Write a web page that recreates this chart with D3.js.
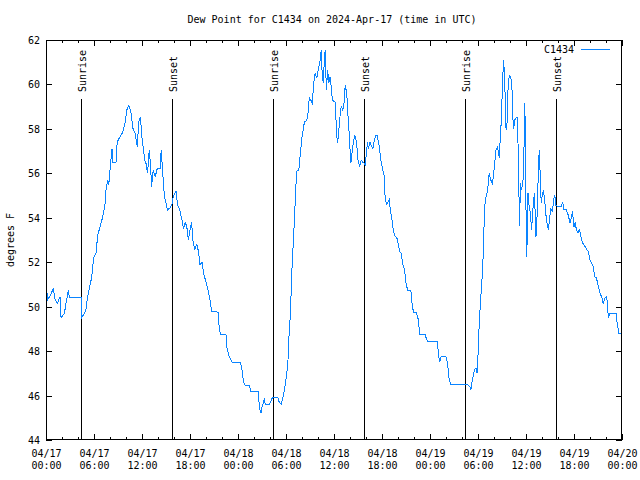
<!DOCTYPE html>
<html>
<head>
<meta charset="utf-8">
<script src="https://cdn.jsdelivr.net/npm/d3@7"></script>
<style>
  html, body { margin: 0; padding: 0; background: #fff; }
  svg { display: block; }
  text { font-family: "DejaVu Sans Mono", "Liberation Mono", monospace; font-size: 10px; fill: #000; }
</style>
</head>
<body>
<svg id="chart" width="640" height="480"></svg>
<script>
// ---- data (hours since 2024-04-17 00:00 UTC, dew point in °F) ----
const hoursFromStart = [
  0.0,0.2,0.45,0.9,1.15,1.45,1.75,1.88,2.3,2.5,2.8,2.92,4.4,4.46,4.8,5.0,5.2,5.4,5.7,5.96,
  6.25,6.46,6.75,7.1,7.4,7.5,7.7,7.85,8.0,8.25,8.35,8.75,8.9,9.25,9.6,9.9,10.1,10.33,10.6,10.9,
  11.15,11.4,11.6,11.8,12.0,12.2,12.4,12.5,12.7,12.9,13.05,13.2,13.4,13.65,13.9,14.25,14.4,14.6,14.75,14.9,
  15.2,15.5,15.75,15.9,16.25,16.45,16.75,17.0,17.2,17.4,17.6,17.8,18.0,18.2,18.4,18.6,18.85,19.05,19.25,19.5,
  19.7,20.0,20.25,20.5,20.7,21.5,21.6,21.8,22.5,22.6,22.85,23.1,23.3,24.3,24.5,24.7,24.9,
  25.4,25.6,26.5,26.6,26.75,26.9,27.0,27.15,27.3,27.4,27.9,28.1,28.3,29.0,29.15,29.4,29.6,29.8,30.0,30.2,
  30.33,30.4,30.55,30.7,30.9,31.05,31.2,31.33,31.6,31.8,32.0,32.3,32.6,32.8,32.9,33.1,33.3,33.45,33.65,33.85,
  34.0,34.25,34.4,34.5,34.65,34.8,34.9,35.05,35.2,35.35,35.5,35.65,35.8,36.15,36.25,36.35,36.45,36.6,36.75,36.9,
  37.1,37.25,37.4,37.6,37.7,37.9,38.1,38.25,38.4,38.6,38.75,38.9,39.0,39.2,39.4,39.6,39.8,39.9,40.1,40.2,
  40.3,40.5,40.65,40.85,41.0,41.2,41.4,41.6,41.75,41.9,42.1,42.3,42.4,42.6,42.75,42.9,43.05,43.25,43.4,43.6,
  43.9,44.05,44.2,44.4,44.6,44.8,45.0,45.2,45.6,45.8,45.95,46.3,46.55,46.7,47.4,47.55,47.7,48.9,49.05,49.2,
  49.4,50.0,50.2,50.4,50.6,52.7,53.0,53.1,53.3,53.55,53.75,53.9,54.05,54.15,54.35,54.6,54.7,54.9,55.0,55.2,
  55.4,55.6,55.8,56.05,56.25,56.45,56.65,56.9,57.1,57.2,57.35,57.45,57.6,57.75,57.9,58.1,58.25,58.35,58.45,58.6,
  58.75,58.9,59.0,59.1,59.2,59.3,59.4,59.6,59.7,59.85,59.9,60.0,60.1,60.25,60.4,60.55,60.7,60.85,61.05,61.15,
  61.25,61.4,61.5,61.65,61.8,61.9,62.05,62.2,62.3,62.4,62.55,62.8,62.95,63.1,63.3,63.5,63.6,63.75,64.05,64.4,
  64.6,64.75,65.0,65.2,65.3,65.5,65.7,65.8,66.0,66.15,66.3,66.5,66.7,66.85,67.1,67.4,67.6,67.8,68.0,68.2,
  68.4,68.6,68.8,69.05,69.25,69.45,69.65,69.9,70.1,70.3,70.5,71.25,71.4,71.6,72.0
];
const dewPointF = [
  51.2,50.3,50.45,50.8,50.3,50.15,50.45,49.5,49.7,50.15,50.75,50.4,50.4,49.5,49.7,49.9,50.45,50.8,51.3,52.2,
  52.4,53.2,53.6,54.05,54.65,55.25,55.7,55.5,56.15,57.1,56.5,56.5,57.4,57.65,57.85,58.3,58.85,59.05,58.8,57.95,
  57.8,57.2,58.3,58.55,57.6,57.0,56.5,56.45,56.0,57.05,56.45,55.4,56.15,55.85,56.2,56.2,57.05,56.0,55.2,54.8,
  54.35,54.45,54.6,54.95,55.2,54.6,54.3,53.9,53.5,53.8,53.6,53.0,53.45,53.8,52.85,52.6,52.8,52.5,51.9,52.0,
  51.5,51.1,50.75,50.3,49.8,49.75,49.25,48.75,48.75,48.2,47.8,47.6,47.5,47.5,47.15,46.6,46.45,
  46.45,46.2,46.2,45.8,45.35,45.2,45.5,45.65,45.9,45.6,45.6,45.75,45.9,45.9,45.7,45.6,45.9,46.25,46.75,47.3,
  48.1,48.95,49.6,51.35,52.8,53.9,55.1,56.1,56.15,56.9,57.65,58.3,58.4,58.8,59.4,59.3,59.15,60.05,60.5,60.3,
  60.6,61.05,61.55,60.65,60.05,61.1,61.55,59.75,60.65,60.05,60.35,59.9,59.3,59.2,58.4,57.65,57.35,57.95,58.55,59.0,
  58.85,59.15,59.95,59.6,58.85,57.8,56.45,56.9,57.35,57.7,57.5,57.05,56.6,56.3,56.6,56.5,56.45,56.35,57.1,57.4,
  57.1,57.4,57.25,57.1,57.4,57.7,57.7,57.35,56.9,56.5,56.15,55.85,54.8,54.6,54.7,54.8,54.35,53.9,53.45,53.2,
  53.05,52.75,52.5,52.4,51.9,51.7,51.05,50.75,50.75,50.0,49.75,49.75,49.4,48.75,48.75,48.55,48.45,48.45,47.9,47.5,
  47.75,47.75,47.45,46.7,46.5,46.5,46.4,46.25,46.7,47.15,47.25,47.0,48.2,49.25,50.45,51.8,53.15,54.8,54.95,55.2,
  56.0,55.7,55.5,56.3,57.05,57.2,56.7,58.3,60.35,61.1,60.2,58.1,57.95,59.75,60.4,60.35,59.75,58.55,58.0,58.4,
  58.5,58.5,57.35,55.4,53.65,55.55,55.25,55.55,56.15,59.15,58.1,54.35,52.25,55.1,54.5,54.2,53.45,54.35,55.1,54.2,
  53.15,54.2,55.55,57.05,55.7,54.65,55.1,55.25,54.8,54.55,53.9,53.45,54.0,54.4,54.3,54.9,55.0,54.55,54.5,54.5,
  54.7,54.35,54.4,54.2,54.1,53.75,54.05,54.3,53.6,53.8,53.45,53.3,53.5,53.15,52.85,52.7,52.55,52.5,52.1,51.95,
  51.8,51.35,51.3,50.9,50.6,50.45,50.15,50.4,50.45,49.5,49.7,49.7,49.25,48.8,48.8
];
const sunriseTimes = ["2024-04-17T04:26:00Z","2024-04-18T04:25:00Z","2024-04-19T04:25:00Z"];
const sunsetTimes  = ["2024-04-17T15:44:00Z","2024-04-18T15:45:00Z","2024-04-19T15:46:00Z"];
const yTicks = [44,46,48,50,52,54,56,58,60,62];
const seriesName = "C1434";
const titleText = "Dew Point for C1434 on 2024-Apr-17 (time in UTC)";
const yLabel = "degrees F";

// ---- layout ----
const L = 46, R = 622, T = 40, B = 440;
const start = Date.UTC(2024,3,17,0,0);
const end = Date.UTC(2024,3,20,0,0);
const HOUR = 3600000;
const x = d3.scaleUtc().domain([new Date(start), new Date(end)]).range([L, R]);
const y = d3.scaleLinear().domain([44, 62]).range([B, T]);
const lineColor = "#0a84ff";

const svg = d3.select("#chart");

// title
svg.append("text").attr("x", 332).attr("y", 23).attr("text-anchor", "middle").text(titleText);

// y label
svg.append("text").attr("transform", "translate(14," + ((T + B) / 2) + ") rotate(-90)")
  .attr("text-anchor", "middle").text(yLabel);

const majorX = d3.utcHour.every(6).range(new Date(start), new Date(end + 1));
const minorX = d3.utcHour.every(2).range(new Date(start), new Date(end + 1)).filter(d => d.getUTCHours() % 6 !== 0);
const fmtDate = d3.utcFormat("%m/%d"), fmtTime = d3.utcFormat("%H:%M");

// bottom axis (major with labels)
const gx = svg.append("g").attr("transform", "translate(0," + B + ")")
  .call(d3.axisBottom(x).tickValues(majorX).tickSizeInner(-6).tickSizeOuter(0).tickFormat(""));
gx.select(".domain").remove();
gx.selectAll(".tick text").remove();
gx.selectAll(".tick").append("text").attr("y", 17).attr("text-anchor", "middle")
  .each(function(d) {
    const t = d3.select(this);
    t.append("tspan").attr("x", 0).attr("dy", 0).text(fmtDate(d));
    t.append("tspan").attr("x", 0).attr("dy", 12).text(fmtTime(d));
  });
svg.append("g").attr("transform", "translate(0," + B + ")")
  .call(d3.axisBottom(x).tickValues(minorX).tickSizeInner(-3).tickSizeOuter(0).tickFormat(""))
  .call(g => g.select(".domain").remove());
// top mirrored ticks
svg.append("g").attr("transform", "translate(0," + T + ")")
  .call(d3.axisTop(x).tickValues(majorX).tickSizeInner(-6).tickSizeOuter(0).tickFormat(""))
  .call(g => g.select(".domain").remove());
svg.append("g").attr("transform", "translate(0," + T + ")")
  .call(d3.axisTop(x).tickValues(minorX).tickSizeInner(-3).tickSizeOuter(0).tickFormat(""))
  .call(g => g.select(".domain").remove());

// y axes
const gy = svg.append("g").attr("transform", "translate(" + L + ",0)")
  .call(d3.axisLeft(y).tickValues(yTicks).tickSizeInner(-6).tickSizeOuter(0).tickPadding(12).tickFormat(d3.format("d")));
gy.select(".domain").remove();
gy.selectAll(".tick text").attr("dy", "0.35em").attr("x", -6);
svg.append("g").attr("transform", "translate(" + R + ",0)")
  .call(d3.axisRight(y).tickValues(yTicks).tickSizeInner(-6).tickSizeOuter(0).tickFormat(""))
  .call(g => g.select(".domain").remove());

svg.selectAll(".tick line").attr("stroke", "#000").attr("shape-rendering", "crispEdges");
svg.selectAll(".tick text").style("fill", "#000");
svg.selectAll("g").attr("font-family", null).attr("font-size", null);

// sunrise / sunset lines
const events = sunriseTimes.map(t => ({t: new Date(t), label: "Sunrise"}))
  .concat(sunsetTimes.map(t => ({t: new Date(t), label: "Sunset"})));
events.forEach(e => {
  const xp = Math.round(x(e.t)) + 0.5;
  svg.append("line").attr("x1", xp).attr("x2", xp).attr("y1", 99).attr("y2", B)
    .attr("stroke", "#000").attr("stroke-width", 1).attr("shape-rendering", "crispEdges");
  svg.append("text").attr("transform", "translate(" + (xp + 4) + ",92) rotate(-90)")
    .attr("text-anchor", "start").text(e.label);
});

// data line
const pts = hoursFromStart.map((h, i) => ({t: new Date(start + h * HOUR), v: dewPointF[i]}));
svg.append("path").datum(pts)
  .attr("fill", "none").attr("stroke", lineColor).attr("stroke-width", 1)
  .attr("shape-rendering", "crispEdges")
  .attr("d", d3.line().x(d => x(d.t)).y(d => y(d.v)));

// frame
svg.append("rect").attr("x", L + 0.5).attr("y", T + 0.5).attr("width", R - L - 1).attr("height", B - T - 1)
  .attr("fill", "none").attr("stroke", "#000").attr("shape-rendering", "crispEdges");

// legend
svg.append("text").attr("x", 574).attr("y", 53).attr("text-anchor", "end").text(seriesName);
svg.append("line").attr("x1", 581).attr("x2", 610).attr("y1", 49.5).attr("y2", 49.5)
  .attr("stroke", lineColor).attr("stroke-width", 1).attr("shape-rendering", "crispEdges");
</script>
</body>
</html>
